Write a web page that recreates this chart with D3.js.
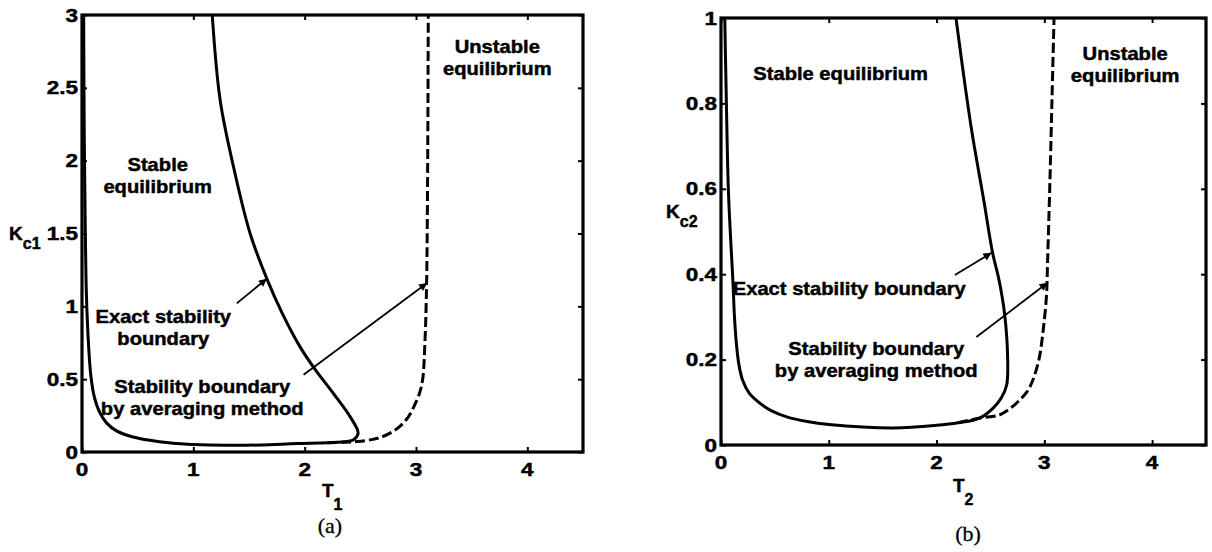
<!DOCTYPE html>
<html>
<head>
<meta charset="utf-8">
<script src="https://cdn.jsdelivr.net/npm/d3@7"></script>
<style>
  body { margin: 0; background: #fff; }
  svg { display: block; }
  text { font-family: "Liberation Sans", Arial, sans-serif; font-weight: bold; fill: #000; stroke: #000; stroke-width: 0.45px; }
  .caption { font-family: "Liberation Serif", "Times New Roman", serif; font-weight: normal; stroke-width: 0.3px; }
</style>
</head>
<body>
<script>
// ---- data ----
// panel (a): T1 vs Kc1
var aExactT = [0.015, 0.02, 0.03, 0.04, 0.06, 0.08, 0.11, 0.16, 0.22, 0.31, 0.45, 0.61, 0.8, 1.0, 1.3, 1.6, 1.93, 2.2, 2.38, 2.44, 2.48, 2.41, 2.26, 2.1, 1.96, 1.8, 1.66, 1.51, 1.36, 1.24, 1.17];
var aExactK = [3.0, 2.2, 1.5, 1.07, 0.72, 0.52, 0.38, 0.27, 0.2, 0.145, 0.105, 0.08, 0.062, 0.052, 0.046, 0.048, 0.058, 0.064, 0.072, 0.085, 0.13, 0.24, 0.4, 0.56, 0.72, 0.95, 1.19, 1.5, 1.96, 2.42, 3.0];
var aAvgT = [2.2, 2.35, 2.47, 2.6, 2.68, 2.78, 2.86, 2.93, 2.98, 3.03, 3.06, 3.08, 3.095, 3.105, 3.11];
var aAvgK = [0.064, 0.067, 0.072, 0.085, 0.1, 0.135, 0.18, 0.24, 0.31, 0.4, 0.5, 0.75, 1.15, 2.0, 3.0];

// panel (b): T2 vs Kc2
var bExactT = [0.035, 0.05, 0.068, 0.09, 0.11, 0.125, 0.142, 0.165, 0.2, 0.26, 0.36, 0.47, 0.61, 0.8, 1.0, 1.6, 2.0, 2.2, 2.4, 2.52, 2.6, 2.65, 2.66, 2.63, 2.58, 2.52, 2.44, 2.33, 2.26, 2.18];
var bExactK = [1.0, 0.8, 0.6, 0.48, 0.386, 0.3, 0.24, 0.19, 0.152, 0.122, 0.098, 0.08, 0.066, 0.055, 0.048, 0.04, 0.046, 0.052, 0.063, 0.085, 0.11, 0.14, 0.2, 0.31, 0.386, 0.45, 0.57, 0.73, 0.85, 1.0];
var bAvgT = [2.2, 2.4, 2.58, 2.68, 2.77, 2.84, 2.89, 2.95, 2.99, 3.02, 3.03, 3.05, 3.07, 3.09];
var bAvgK = [0.052, 0.063, 0.07, 0.085, 0.105, 0.125, 0.15, 0.2, 0.27, 0.35, 0.43, 0.6, 0.8, 1.0];

var xTicks = [0, 1, 2, 3, 4];
var aYTicks = [0, 0.5, 1, 1.5, 2, 2.5, 3];
var bYTicks = [0, 0.2, 0.4, 0.6, 0.8, 1];

// annotation texts (anchor in data units: centre T, first baseline K)
var aNotes = [
  {t: 0.68, k: 1.93, lines: ["Stable", "equilibrium"]},
  {t: 3.73, k: 2.74, lines: ["Unstable", "equilibrium"]},
  {t: 0.73, k: 0.886, lines: ["Exact stability", "boundary"]},
  {t: 1.08, k: 0.405, lines: ["Stability boundary", "by averaging method"]}
];
var bNotes = [
  {t: 1.11, k: 0.855, lines: ["Stable equilibrium"]},
  {t: 3.75, k: 0.902, lines: ["Unstable", "equilibrium"]},
  {t: 1.19, k: 0.351, lines: ["Exact stability boundary"]},
  {t: 1.44, k: 0.211, lines: ["Stability boundary", "by averaging method"]}
];
// arrows: tail -> head
var aArrows = [[1.39, 1.02, 1.66, 1.19], [1.99, 0.53, 3.1, 1.16]];
var bArrows = [[2.17, 0.398, 2.51, 0.45], [2.37, 0.253, 3.03, 0.38]];

var svg = d3.select("body").append("svg")
    .attr("width", 1212)
    .attr("height", 552);

svg.append("defs").append("marker")
    .attr("id", "head")
    .attr("viewBox", "0 0 10 10")
    .attr("refX", 10).attr("refY", 5)
    .attr("markerWidth", 9).attr("markerHeight", 8)
    .attr("markerUnits", "userSpaceOnUse")
    .attr("orient", "auto")
  .append("path")
    .attr("d", "M0,0 L10,5 L0,10 z")
    .attr("fill", "#000");

function drawPanel(p) {
  var x = d3.scaleLinear().domain([0, 4.5]).range([p.left, p.right]);
  var y = d3.scaleLinear().domain([0, p.yMax]).range([p.bottom, p.top]);
  var g = svg.append("g");

  // curves
  var line = d3.line().x(d => x(d[0])).y(d => y(d[1])).curve(d3.curveCatmullRom.alpha(0.5));
  g.append("path")
    .datum(p.avgT.map((t, i) => [t, p.avgK[i]]))
    .attr("d", line)
    .attr("fill", "none").attr("stroke", "#000")
    .attr("stroke-width", 3).attr("stroke-dasharray", "10,4");
  g.append("path")
    .datum(p.exT.map((t, i) => [t, p.exK[i]]))
    .attr("d", line)
    .attr("fill", "none").attr("stroke", "#000")
    .attr("stroke-width", 3);

  // axes, inward ticks on all four sides (box)
  var fmt = d3.format("");
  g.append("g").attr("transform", "translate(0," + p.bottom + ")")
    .call(d3.axisBottom(x).tickValues(xTicks).tickSizeInner(-5).tickSizeOuter(0).tickFormat(""));
  g.append("g").attr("transform", "translate(0," + p.top + ")")
    .call(d3.axisTop(x).tickValues(xTicks).tickSizeInner(-5).tickSizeOuter(0).tickFormat(""));
  g.append("g").attr("transform", "translate(" + p.left + ",0)")
    .call(d3.axisLeft(y).tickValues(p.yTicks).tickSizeInner(-5).tickSizeOuter(0).tickFormat(""));
  g.append("g").attr("transform", "translate(" + p.right + ",0)")
    .call(d3.axisRight(y).tickValues(p.yTicks).tickSizeInner(-5).tickSizeOuter(0).tickFormat(""));
  g.selectAll(".domain").remove();
  g.selectAll(".tick line").attr("stroke", "#000").attr("stroke-width", 2);

  g.append("rect")
    .attr("x", p.left).attr("y", p.top)
    .attr("width", p.right - p.left).attr("height", p.bottom - p.top)
    .attr("fill", "none").attr("stroke", "#000").attr("stroke-width", 3.2);

  // tick labels (slightly wide glyphs as in the scan)
  g.selectAll(".xl").data(xTicks).enter().append("text")
    .attr("transform", d => "translate(" + x(d) + "," + (p.bottom + 24) + ") scale(1.25,1)")
    .attr("text-anchor", "middle").style("font-size", "18px")
    .text(fmt);
  g.selectAll(".yl").data(p.yTicks).enter().append("text")
    .attr("transform", d => "translate(" + (p.left - 4) + "," + (y(d) + 6.5) + ") scale(1.25,1)")
    .attr("text-anchor", "end").style("font-size", "18px")
    .text(fmt);

  // axis titles
  var yt = g.append("text").attr("x", p.yLab[0]).attr("y", p.yLab[1]).style("font-size", "19px");
  yt.append("tspan").text("K");
  yt.append("tspan").attr("dy", 9).style("font-size", "16px").text(p.ySub);
  var xt = g.append("text").attr("x", p.xLab[0]).attr("y", p.xLab[1]).style("font-size", "19px");
  xt.append("tspan").text("T");
  xt.append("tspan").attr("dy", 13).style("font-size", "16px").text(p.xSub);

  g.append("text").attr("class", "caption")
    .attr("x", p.cap[0]).attr("y", p.cap[1])
    .attr("text-anchor", "middle").style("font-size", "22px")
    .text(p.capText);

  // annotations
  p.notes.forEach(function(n) {
    n.lines.forEach(function(s, i) {
      g.append("text")
        .attr("transform", "translate(" + x(n.t) + "," + (y(n.k) + i * 22) + ") scale(1.12,1)")
        .attr("text-anchor", "middle").style("font-size", "18px")
        .text(s);
    });
  });
  g.selectAll(".arrow").data(p.arrows).enter().append("line")
    .attr("x1", d => x(d[0])).attr("y1", d => y(d[1]))
    .attr("x2", d => x(d[2])).attr("y2", d => y(d[3]))
    .attr("stroke", "#000").attr("stroke-width", 1.8)
    .attr("marker-end", "url(#head)");
}

drawPanel({
  left: 82, right: 583, top: 15, bottom: 452, yMax: 3, yTicks: aYTicks,
  exT: aExactT, exK: aExactK, avgT: aAvgT, avgK: aAvgK,
  notes: aNotes, arrows: aArrows,
  yLab: [9, 240], ySub: "c1", xLab: [322, 497], xSub: "1",
  cap: [330, 533], capText: "(a)"
});
drawPanel({
  left: 721, right: 1206, top: 18, bottom: 445, yMax: 1, yTicks: bYTicks,
  exT: bExactT, exK: bExactK, avgT: bAvgT, avgK: bAvgK,
  notes: bNotes, arrows: bArrows,
  yLab: [666, 218], ySub: "c2", xLab: [953, 492], xSub: "2",
  cap: [968, 541], capText: "(b)"
});
</script>
</body>
</html>
